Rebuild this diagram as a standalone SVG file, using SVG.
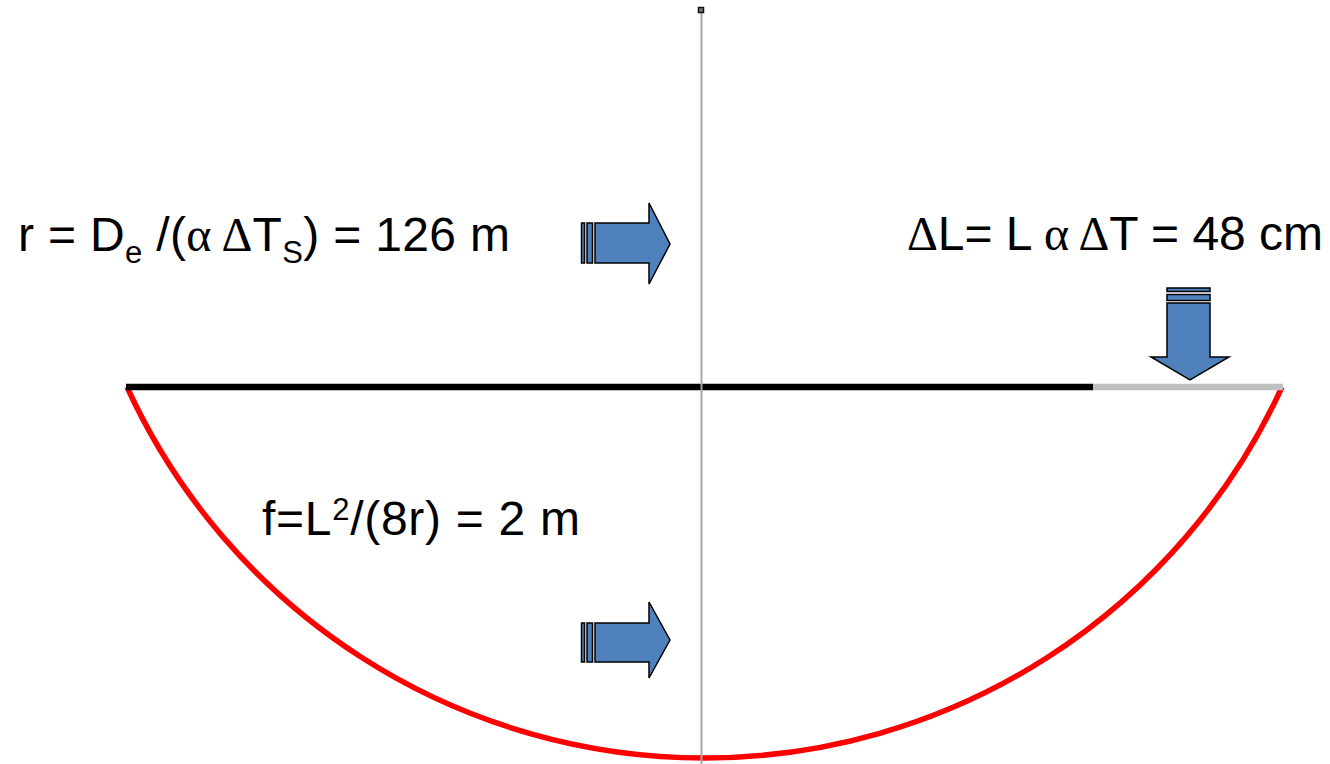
<svg xmlns="http://www.w3.org/2000/svg" width="1330" height="764" viewBox="0 0 1330 764">
<style>
.lbl{font-family:"Liberation Sans",Arial,sans-serif;fill:#000}
.sym{font-family:"Liberation Serif","Times New Roman",serif}
.arr{fill:#4F81BD;stroke:#000;stroke-width:1.5;stroke-linejoin:miter}
</style>
<rect width="1330" height="764" fill="#fff"/>
<g id="connectors">
<path id="arc" d="M127,387 A635,635 0 0 0 1282,387" fill="none" stroke="#FF0000" stroke-width="5.5"/>
<line id="beam-black" x1="126" y1="387" x2="1093" y2="387" stroke="#000" stroke-width="6.5"/>
<line id="beam-grey" x1="1093" y1="387" x2="1283" y2="387" stroke="#BFBFBF" stroke-width="6.5"/>
<line id="axis" x1="701.5" y1="10" x2="701.5" y2="764" stroke="#A6A6A6" stroke-width="2"/>
<rect id="axis-top" x="698.5" y="7.5" width="5" height="5" fill="#777" stroke="#111" stroke-width="1.5"/>
</g>
<g id="arrow-r">
<rect class="arr" x="581.5" y="223" width="3" height="40"/>
<rect class="arr" x="587" y="223" width="5.5" height="40"/>
<polygon class="arr" points="595,223 649,223 649,203 670,244 649,284 649,263 595,263"/>
</g>
<g id="arrow-f">
<rect class="arr" x="581.5" y="623" width="3" height="39"/>
<rect class="arr" x="587" y="623" width="5.5" height="39"/>
<polygon class="arr" points="595,623 649,623 649,602 670,640 649,678 649,662 595,662"/>
</g>
<g id="arrow-dl">
<rect class="arr" x="1167" y="288" width="43" height="3.5"/>
<rect class="arr" x="1167" y="294.5" width="43" height="6"/>
<polygon class="arr" points="1167,303 1210,303 1210,357 1229,357 1190,380 1151,357 1167,357"/>
</g>
<g id="label-r">
<text class="lbl" x="18" y="251" font-size="48" textLength="492" lengthAdjust="spacing">r = D<tspan font-size="31" dy="12">e</tspan><tspan dy="-12"> /(</tspan><tspan class="sym">α Δ</tspan>T<tspan font-size="31" dy="12">S</tspan><tspan dy="-12">) = 126 m</tspan></text>
</g>
<g id="label-dl">
<text class="lbl" x="907" y="250" font-size="48" textLength="416" lengthAdjust="spacing"><tspan class="sym">Δ</tspan>L= L <tspan class="sym">α Δ</tspan>T = 48 cm</text>
</g>
<g id="label-f">
<text class="lbl" x="262" y="535" font-size="48" textLength="318" lengthAdjust="spacing">f=L<tspan font-size="31" dy="-15">2</tspan><tspan dy="15">/(8r) = 2 m</tspan></text>
</g>
</svg>
